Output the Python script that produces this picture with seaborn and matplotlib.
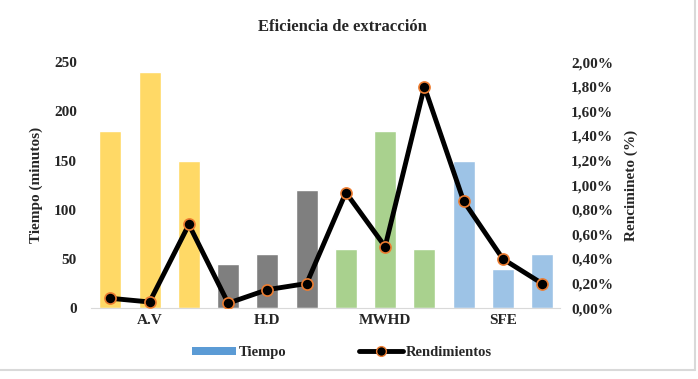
import pandas as pd
import numpy as np
import matplotlib
matplotlib.use("Agg")
import matplotlib.pyplot as plt
import seaborn as sns
from matplotlib.patches import Patch
from matplotlib.lines import Line2D
from matplotlib.ticker import FuncFormatter

metodos = ["A.V", "H.D", "MWHD", "SFE"]
tiempo = [180, 240, 150, 45, 55, 120, 60, 180, 60, 150, 40, 55]
rendimiento = [0.08, 0.05, 0.68, 0.04, 0.15, 0.20, 0.94, 0.50, 1.80, 0.87, 0.40, 0.20]
colores = ["#FFD966", "#7F7F7F", "#A9D18E", "#9DC3E6"]

df = pd.DataFrame({
    "pos": range(len(tiempo)),
    "tiempo": tiempo,
    "rend": rendimiento,
    "grupo": np.repeat(metodos, 3),
})

sns.set_style("white")
plt.rcParams["font.family"] = ["Liberation Serif", "DejaVu Serif"]
plt.rcParams["font.weight"] = "bold"

fig = plt.figure(figsize=(6.98, 3.79), dpi=100)
ax = fig.add_axes([0.130, 0.187, 0.672, 0.649])

sns.barplot(data=df, x="pos", y="tiempo", hue="grupo", palette=colores,
            dodge=False, width=0.56, saturation=1, legend=False, ax=ax)
ax.set_xlim(-0.5, 11.45)
ax.set_ylim(0, 250)
ax.set_yticks(range(0, 251, 50))
ax.set_xticks([1, 4, 7, 10])
ax.set_xticklabels(metodos)
ax.set_xlabel("")
ax.set_ylabel("Tiempo (minutos)", fontsize=11, fontweight="bold", labelpad=8)
ax.tick_params(axis="both", length=0, labelsize=11, pad=4)
ax.tick_params(axis="y", pad=10)
for s in ["top", "left", "right"]:
    ax.spines[s].set_visible(False)
ax.spines["bottom"].set_color("#D9D9D9")

ax2 = ax.twinx()
sns.lineplot(data=df, x="pos", y="rend", color="black", linewidth=3.5,
             marker="o", markersize=8, markerfacecolor="black",
             markeredgecolor="#ED7D31", markeredgewidth=1.2, ax=ax2)
ax2.set_ylim(0, 2.0)
ax2.set_yticks(np.arange(0, 2.01, 0.2))
ax2.yaxis.set_major_formatter(FuncFormatter(lambda v, p: f"{v:.2f}%".replace(".", ",")))
ax2.set_ylabel("Rencimineto (%)", fontsize=11, fontweight="bold", labelpad=8)
ax2.set_xlabel("")
ax2.tick_params(axis="y", length=0, labelsize=11, pad=8)
for s in ["top", "left", "right", "bottom"]:
    ax2.spines[s].set_visible(False)

fig.text(0.49, 0.93, "Eficiencia de extracción", ha="center", va="center",
         fontsize=12, fontweight="bold")

handles = [
    Patch(facecolor="#5B9BD5", edgecolor="none"),
    Line2D([0], [0], color="black", linewidth=3.5, marker="o", markersize=7,
           markerfacecolor="black", markeredgecolor="#ED7D31"),
]
fig.legend(handles, ["Tiempo", "Rendimientos"], loc="center", bbox_to_anchor=(0.49, 0.07),
           ncol=2, frameon=False, fontsize=10.5, columnspacing=5, handlelength=3,
           handletextpad=0.2, handleheight=0.5)

# light gray chart border (bottom and right edges only, as in the source)
fig.add_artist(Line2D([0, 0.995], [0.025, 0.025], transform=fig.transFigure,
                      color="#D9D9D9", linewidth=1.5))
fig.add_artist(Line2D([0.995, 0.995], [0.025, 1.0], transform=fig.transFigure,
                      color="#D9D9D9", linewidth=1.5))

fig.savefig("out.png", dpi=100)
